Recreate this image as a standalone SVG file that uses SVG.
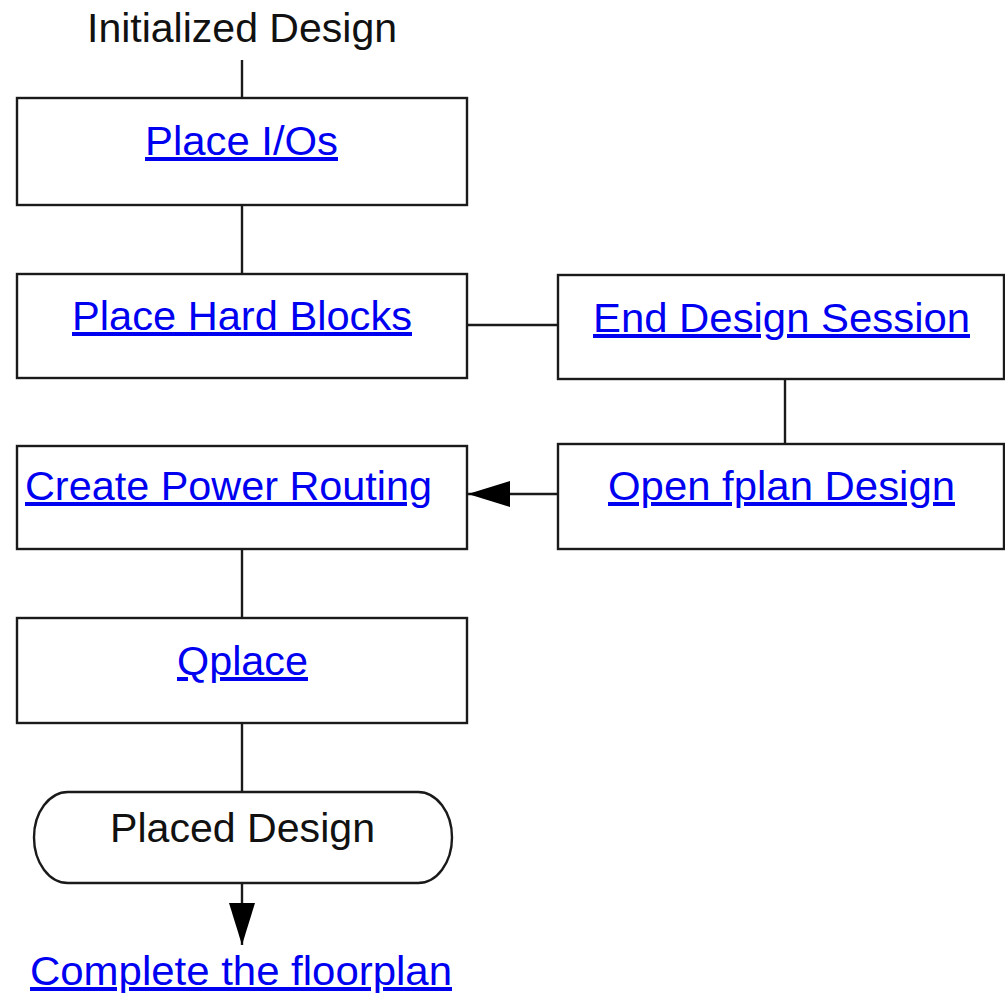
<svg xmlns="http://www.w3.org/2000/svg" width="1005" height="997" viewBox="0 0 1005 997">
  <style>
    .box { fill: #ffffff; stroke: #1a1a1a; stroke-width: 2.4; }
    .edge { fill: none; stroke: #1a1a1a; stroke-width: 2.4; }
    .lbl { font-family: "Liberation Sans", Arial, sans-serif; font-size: 40px; }
    .link { fill: #0000f0; text-decoration: underline; }
    .plain { fill: #111111; }
  </style>
  <defs>
    <marker id="arrow" viewBox="0 0 42 26" refX="42" refY="13" markerWidth="42" markerHeight="26" markerUnits="userSpaceOnUse" orient="auto">
      <path d="M0,0 L42,13 L0,26 Z" fill="#000000"/>
    </marker>
  </defs>
  <rect width="1005" height="997" fill="#ffffff"/>

  <!-- connectors -->
  <g id="connectors">
    <line class="edge" x1="242" y1="60" x2="242" y2="98"/>
    <line class="edge" x1="242" y1="205" x2="242" y2="274"/>
    <line class="edge" x1="467" y1="325" x2="558" y2="325"/>
    <line class="edge" x1="785" y1="379" x2="785" y2="444"/>
    <line class="edge" x1="558" y1="494" x2="468" y2="494" marker-end="url(#arrow)"/>
    <line class="edge" x1="242" y1="549" x2="242" y2="618"/>
    <line class="edge" x1="242" y1="723" x2="242" y2="792"/>
    <line class="edge" x1="242" y1="883" x2="242" y2="945" marker-end="url(#arrow)"/>
  </g>

  <!-- start label -->
  <g id="start">
    <text class="lbl plain" x="87" y="42" textLength="310" lengthAdjust="spacingAndGlyphs">Initialized Design</text>
  </g>

  <g id="place-ios">
    <rect class="box" x="17" y="98" width="450" height="107"/>
    <text class="lbl link" x="145" y="155" textLength="193" lengthAdjust="spacingAndGlyphs">Place I/Os</text>
  </g>

  <g id="place-hard-blocks">
    <rect class="box" x="17" y="274" width="450" height="104"/>
    <text class="lbl link" x="72" y="330" textLength="340" lengthAdjust="spacingAndGlyphs">Place Hard Blocks</text>
  </g>

  <g id="end-design-session">
    <rect class="box" x="558" y="275" width="446" height="104"/>
    <text class="lbl link" x="593" y="332" textLength="377" lengthAdjust="spacingAndGlyphs">End Design Session</text>
  </g>

  <g id="open-fplan-design">
    <rect class="box" x="558" y="444" width="446" height="105"/>
    <text class="lbl link" x="608" y="500" textLength="347" lengthAdjust="spacingAndGlyphs">Open fplan Design</text>
  </g>

  <g id="create-power-routing">
    <rect class="box" x="17" y="446" width="450" height="103"/>
    <text class="lbl link" x="25" y="500" textLength="407" lengthAdjust="spacingAndGlyphs">Create Power Routing</text>
  </g>

  <g id="qplace">
    <rect class="box" x="17" y="618" width="450" height="105"/>
    <text class="lbl link" x="177" y="675" textLength="131" lengthAdjust="spacingAndGlyphs">Qplace</text>
  </g>

  <g id="placed-design">
    <path class="box" d="M68,792 L418,792 A34,45.5 0 0 1 418,883 L68,883 A34,45.5 0 0 1 68,792 Z"/>
    <text class="lbl plain" x="110" y="842" textLength="265" lengthAdjust="spacingAndGlyphs">Placed Design</text>
  </g>

  <g id="complete-floorplan">
    <text class="lbl link" x="30" y="985" textLength="422" lengthAdjust="spacingAndGlyphs">Complete the floorplan</text>
  </g>
</svg>
